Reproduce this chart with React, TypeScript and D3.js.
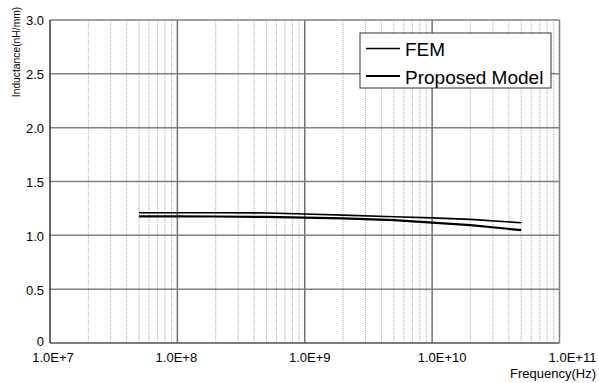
import React from "react";
import * as d3 from "d3";

// Frequency sweep (Hz) and inductance per unit length (nH/mm)
const frequencies = [5e7, 1e8, 2e8, 5e8, 1e9, 2e9, 5e9, 1e10, 2e10, 5e10];
const femValues = [1.21, 1.21, 1.21, 1.208, 1.198, 1.188, 1.173, 1.162, 1.148, 1.117];
const proposedValues = [1.176, 1.176, 1.175, 1.171, 1.165, 1.157, 1.142, 1.118, 1.094, 1.049];

const seriesNames = ["FEM", "Proposed Model"];
const xTickValues = [1e7, 1e8, 1e9, 1e10, 1e11];
const xTickLabels = ["1.0E+7", "1.0E+8", "1.0E+9", "1.0E+10", "1.0E+11"];
const yTickValues = [0, 0.5, 1.0, 1.5, 2.0, 2.5, 3.0];
const yTickLabels = ["0", "0.5", "1.0", "1.5", "2.0", "2.5", "3.0"];

const W = 599;
const H = 383;
const plot = { left: 50, right: 559.5, top: 20, bottom: 343 };
const xLabelShift = [3, -1, 5, 10, 13];
const font = "'Liberation Sans', Arial, sans-serif";

export default function App() {
  const x = d3.scaleLog().domain([1e7, 1e11]).range([plot.left, plot.right]);
  const y = d3.scaleLinear().domain([0, 3]).range([plot.bottom, plot.top]);

  const minorTicks: number[] = [];
  for (let e = 7; e < 11; e++) {
    for (let m = 2; m <= 9; m++) minorTicks.push(m * Math.pow(10, e));
  }

  const line = d3
    .line<[number, number]>()
    .x((d) => x(d[0]))
    .y((d) => y(d[1]));

  const femPath = line(frequencies.map((f, i) => [f, femValues[i]] as [number, number]));
  const propPath = line(frequencies.map((f, i) => [f, proposedValues[i]] as [number, number]));

  const legend = { x: 360, y: 33, w: 191, h: 55 };

  return (
    <svg
      width={W}
      height={H}
      style={{ position: "absolute", left: 0, top: 0, background: "#fff" }}
      fontFamily={font}
    >
      <rect x={0} y={0} width={W} height={H} fill="#fff" />
      {/* minor frequency grid */}
      {minorTicks.map((t) => (
        <line
          key={"mn" + t}
          x1={x(t)}
          x2={x(t)}
          y1={plot.top}
          y2={plot.bottom}
          stroke="#a8a8a8"
          strokeWidth={1}
          strokeDasharray="1,1"
        />
      ))}
      {/* major frequency grid */}
      {xTickValues.slice(1, -1).map((t) => (
        <line
          key={"mj" + t}
          x1={x(t)}
          x2={x(t)}
          y1={plot.top}
          y2={plot.bottom}
          stroke="#707070"
          strokeWidth={1.5}
        />
      ))}
      {/* horizontal grid */}
      {yTickValues.slice(1).map((v) => (
        <line
          key={"h" + v}
          x1={plot.left}
          x2={plot.right}
          y1={y(v)}
          y2={y(v)}
          stroke="#808080"
          strokeWidth={1.5}
        />
      ))}
      {/* frame */}
      <line x1={plot.right} x2={plot.right} y1={plot.top} y2={plot.bottom} stroke="#808080" strokeWidth={1.5} />
      <line x1={plot.left} x2={plot.right} y1={plot.bottom} y2={plot.bottom} stroke="#555" strokeWidth={1.5} />
      <line x1={plot.left} x2={plot.left} y1={plot.top} y2={plot.bottom} stroke="#333" strokeWidth={1.5} />

      {/* series */}
      <path d={femPath ?? ""} fill="none" stroke="#000" strokeWidth={1.6} />
      <path d={propPath ?? ""} fill="none" stroke="#000" strokeWidth={2.2} />

      {/* y tick labels */}
      {yTickValues.map((v, i) => (
        <text
          key={"yl" + v}
          x={plot.left - 6}
          y={y(v) + (v === 0 ? 0 : 2)}
          fontSize={13}
          textAnchor="end"
          dominantBaseline="middle"
          fill="#000"
        >
          {yTickLabels[i]}
        </text>
      ))}
      {/* x tick labels */}
      {xTickValues.map((t, i) => (
        <text
          key={"xl" + t}
          x={x(t) + xLabelShift[i]}
          y={362}
          fontSize={13}
          textAnchor="middle"
          fill="#000"
        >
          {xTickLabels[i]}
        </text>
      ))}
      {/* axis titles */}
      <text x={596} y={378} fontSize={13} textAnchor="end" fill="#000">
        Frequency(Hz)
      </text>
      <text
        transform={`translate(20, 52) rotate(-90)`}
        fontSize={10.3}
        textAnchor="middle"
        fill="#000"
      >
        Inductance(nH/mm)
      </text>

      {/* legend */}
      <rect
        x={legend.x}
        y={legend.y}
        width={legend.w}
        height={legend.h}
        fill="#fff"
        stroke="#333"
        strokeWidth={1}
      />
      {seriesNames.map((name, i) => {
        const cy = legend.y + 15.5 + i * 27.5;
        return (
          <g key={name}>
            <line
              x1={legend.x + 6}
              x2={legend.x + 40}
              y1={cy}
              y2={cy}
              stroke="#000"
              strokeWidth={i === 0 ? 1.6 : 2.2}
            />
            <text x={legend.x + 45} y={cy + 7.5} fontSize={19} fill="#000">
              {name}
            </text>
          </g>
        );
      })}
    </svg>
  );
}
